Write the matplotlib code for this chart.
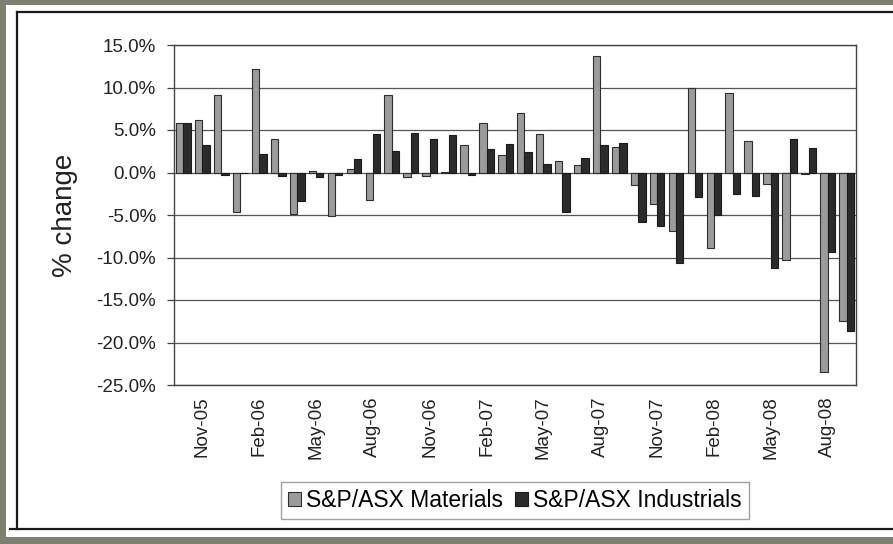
import matplotlib
matplotlib.use("Agg")
import matplotlib.pyplot as plt
import numpy as np
from matplotlib.patches import Rectangle
from matplotlib.lines import Line2D

plt.rcParams['font.family'] = ['Liberation Sans', 'DejaVu Sans']

# monthly % change, Oct-05 .. Sep-08
months = ['Oct-05', 'Nov-05', 'Dec-05', 'Jan-06', 'Feb-06', 'Mar-06', 'Apr-06', 'May-06',
          'Jun-06', 'Jul-06', 'Aug-06', 'Sep-06', 'Oct-06', 'Nov-06', 'Dec-06', 'Jan-07',
          'Feb-07', 'Mar-07', 'Apr-07', 'May-07', 'Jun-07', 'Jul-07', 'Aug-07', 'Sep-07',
          'Oct-07', 'Nov-07', 'Dec-07', 'Jan-08', 'Feb-08', 'Mar-08', 'Apr-08', 'May-08',
          'Jun-08', 'Jul-08', 'Aug-08', 'Sep-08']
materials = [5.8, 6.2, 9.1, -4.6, 12.2, 3.9, -4.9, 0.2, -5.1, 0.4, -3.2, 9.1,
             -0.5, -0.4, 0.1, 3.2, 5.8, 2.1, 7.0, 4.5, 1.3, 0.9, 13.7, 3.0,
             -1.5, -3.7, -6.9, 9.9, -8.9, 9.4, 3.7, -1.4, -10.3, -0.2, -23.5, -17.5]
industrials = [5.8, 3.2, -0.3, -0.1, 2.2, -0.4, -3.4, -0.5, -0.3, 1.6, 4.5, 2.5,
               4.7, 3.9, 4.4, -0.3, 2.8, 3.3, 2.4, 1.0, -4.6, 1.7, 3.2, 3.5,
               -5.8, -6.3, -10.6, -2.9, -5.0, -2.5, -2.8, -11.2, 4.0, 2.9, -9.4, -18.7]
tick_labels = ['Nov-05', 'Feb-06', 'May-06', 'Aug-06', 'Nov-06', 'Feb-07',
               'May-07', 'Aug-07', 'Nov-07', 'Feb-08', 'May-08', 'Aug-08']
y_ticks = [15, 10, 5, 0, -5, -10, -15, -20, -25]

W, H = 893, 544
fig = plt.figure(figsize=(W / 100, H / 100), dpi=100)
fig.patch.set_facecolor('#7d8070')

# white page with scanned frame lines
fig.add_artist(Rectangle((6 / W, 1 - 537 / H), 1, (537 - 5) / H,
                         transform=fig.transFigure, facecolor='white', edgecolor='none', zorder=0))
for xs, ys in [([17, W], [12, 12]), ([17, 17], [12, 529]), ([10, W], [529, 529])]:
    fig.add_artist(Line2D([x / W for x in xs], [1 - y / H for y in ys],
                          transform=fig.transFigure, color='#1a1a1a', lw=1.6))

ax = fig.add_axes([174 / W, 1 - 385 / H, (856 - 174) / W, (385 - 45) / H])
x = np.arange(len(months))
bw = 0.39
ax.bar(x - bw / 2, materials, bw, color='#9b9b9b', edgecolor='#2e2e2e', linewidth=0.8,
       label='S&P/ASX Materials', zorder=3)
ax.bar(x + bw / 2, industrials, bw, color='#2b2b2b', edgecolor='#1a1a1a', linewidth=0.8,
       label='S&P/ASX Industrials', zorder=3)

ax.set_xlim(-0.5, len(months) - 0.5)
ax.set_ylim(-25, 15)
ax.set_yticks(y_ticks)
ax.set_yticklabels([f'{v:.1f}%' for v in y_ticks], fontsize=13.5, color='#222222')
ax.yaxis.grid(True, color='#555555', linewidth=0.9, zorder=0)
ax.set_axisbelow(True)

tick_pos = [months.index(m) for m in tick_labels]
ax.set_xticks(tick_pos)
ax.set_xticklabels(tick_labels, rotation=90, fontsize=13.5, color='#222222')
ax.tick_params(axis='x', length=0, pad=8)
ax.tick_params(axis='y', length=5, width=0.9, color='#444444', pad=8)
for s in ax.spines.values():
    s.set_color('#444444')
    s.set_linewidth(1.0)

ax.set_ylabel('% change', fontsize=20, color='#222222', labelpad=13)

leg = ax.legend(loc='upper center', bbox_to_anchor=(0.5, -0.285), ncol=2, fontsize=16.5,
                frameon=True, fancybox=False, edgecolor='#888888', handlelength=0.55,
                handleheight=0.55, handletextpad=0.25, columnspacing=0.5,
                borderpad=0.3, borderaxespad=0)
leg.get_frame().set_linewidth(1.0)

fig.savefig('out.png', dpi=100, facecolor=fig.get_facecolor())
